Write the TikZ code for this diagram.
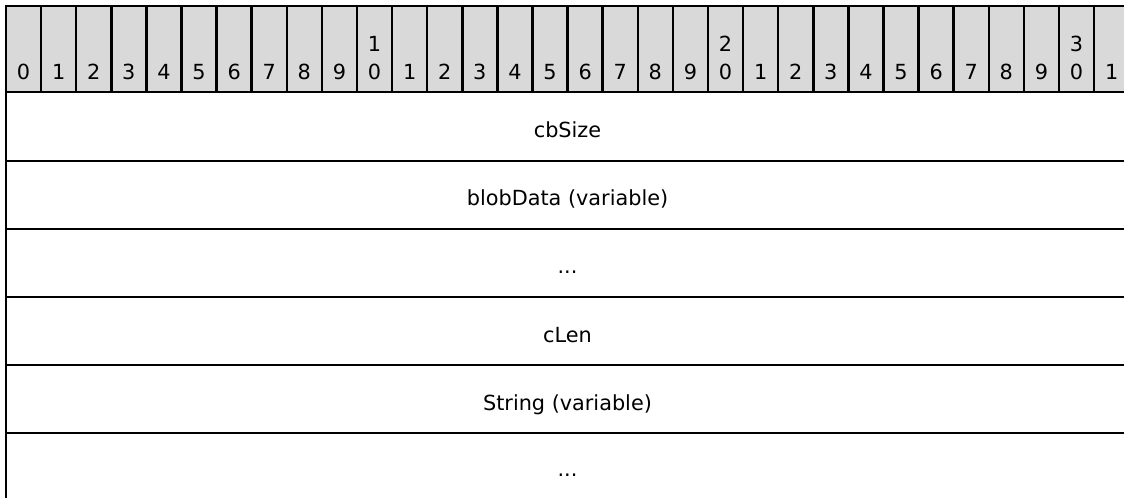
\documentclass[tikz,border=0pt]{standalone}
\usepackage{fontspec}
\setmainfont{DejaVu Sans}
\usetikzlibrary{positioning}
\definecolor{hdrgray}{RGB}{217,217,217}
\tikzset{
  bitlbl/.style={anchor=base, inner sep=0pt, font=\fontsize{15.6}{18}\selectfont},
  field/.style={anchor=base, inner sep=0pt, font=\fontsize{15.6}{18}\selectfont},
}

\begin{document}
\begin{tikzpicture}[x=0.75pt, y=-0.75pt, line width=1.9pt]
    \useasboundingbox (0,0) rectangle (1124,498);
    \clip (0,0) rectangle (1124,498);
    % bit header
    \draw[fill=hdrgray] (6,6) rectangle (1129,92);
    \foreach \b in {0,...,31} {
      \pgfmathtruncatemacro\ones{mod(\b,10)}
      \pgfmathtruncatemacro\tens{\b/10}
      \draw ({6+35.1*\b},6) -- ({6+35.1*\b},92);
      \node[bitlbl] (bit\b) at ({6+35.1*(\b+.5)},80) {\ones};
      \ifnum\ones=0 \ifnum\b>0
        \node[bitlbl] (dec\b) at ({6+35.1*(\b+.5)},52) {\tens};
      \fi\fi
    }
    % fields
    \draw (6,92) -- (6,500);
    \foreach \y in {161,229,297,365,433} \draw (6,\y) -- (1129,\y);
    \node[field] (cbsize)   at (567.5,138) {cbSize};
    \node[field] (blobdata) at (567.5,206) {blobData (variable)};
    \node[field] (blobmore) at (567.5,274) {...};
    \node[field] (clen)     at (567.5,343) {cLen};
    \node[field] (string)   at (567.5,411) {String (variable)};
    \node[field] (strmore)  at (567.5,477) {...};
  \end{tikzpicture}
\end{document}
